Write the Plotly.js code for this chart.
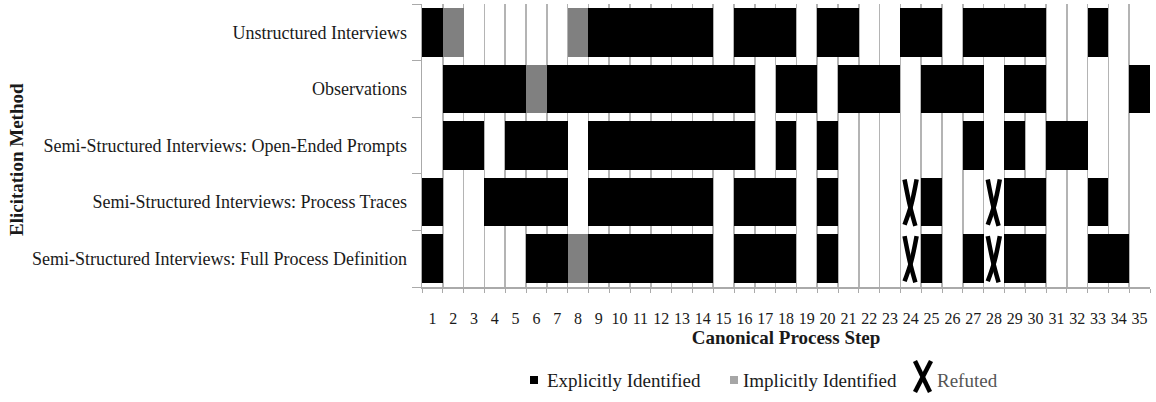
<!DOCTYPE html>
<html>
<head>
<meta charset="utf-8">
<script src="https://cdn.plot.ly/plotly-3.0.1.min.js"></script>
<style>html,body{margin:0;padding:0;background:#fff;}#chart{width:1156px;height:402px;}</style>
</head>
<body>
<div id="chart"></div>
<script>
// Status codes: 0 = not identified, 1 = explicitly identified, 2 = implicitly identified, 3 = refuted
var steps = [1,2,3,4,5,6,7,8,9,10,11,12,13,14,15,16,17,18,19,20,21,22,23,24,25,26,27,28,29,30,31,32,33,34,35];
var methods = [
  "Unstructured Interviews",
  "Observations",
  "Semi-Structured Interviews: Open-Ended Prompts",
  "Semi-Structured Interviews: Process Traces",
  "Semi-Structured Interviews: Full Process Definition"
];
var unstructured   = [1,2,0,0,0,0,0,2,1,1,1,1,1,1,0,1,1,1,0,1,1,0,0,1,1,0,1,1,1,1,0,0,1,0,0];
var observations   = [0,1,1,1,1,2,1,1,1,1,1,1,1,1,1,1,0,1,1,0,1,1,1,0,1,1,1,0,1,1,0,0,0,0,1];
var openEnded      = [0,1,1,0,1,1,1,0,1,1,1,1,1,1,1,1,0,1,0,1,0,0,0,0,0,0,1,0,1,0,1,1,0,0,0];
var processTraces  = [1,0,0,1,1,1,1,0,1,1,1,1,1,1,0,1,1,1,0,1,0,0,0,3,1,0,0,3,1,1,0,0,1,0,0];
var fullDefinition = [1,0,0,0,0,1,1,2,1,1,1,1,1,1,0,1,1,1,0,1,0,0,0,3,1,0,1,3,1,1,0,0,1,1,0];
var legendLabels = ["Explicitly Identified", "Implicitly Identified", "Refuted"];

var rows = [unstructured, observations, openEnded, processTraces, fullDefinition];
var rowIdx = methods.map(function(_, i){ return i; });

// heatmap matrix (null = blank cell, shows gridlines)
var z = rows.map(function(r){
  return r.map(function(v){ return (v === 1 || v === 2) ? v : null; });
});

// refuted "X" strokes built from the data
var rx = [], ry = [];
rows.forEach(function(r, i){
  r.forEach(function(v, j){
    if (v === 3) {
      var s = steps[j];
      rx.push(s - 0.30, s - 0.05, s + 0.22, null);
      ry.push(i - 0.40, i + 0.05, i + 0.42, null);
      rx.push(s + 0.28, s + 0.02, s - 0.30, null);
      ry.push(i - 0.40, i + 0.05, i + 0.40, null);
    }
  });
});

var traces = [
  {
    type: 'heatmap', x: steps, y: rowIdx, z: z,
    zmin: 1, zmax: 2, colorscale: [[0, '#000000'], [1, '#808080']],
    showscale: false, ygap: 8, xgap: 0, hoverinfo: 'skip', zsmooth: false
  },
  {
    type: 'scatter', mode: 'lines', x: rx, y: ry,
    line: {color: '#000', width: 4.5, shape: 'spline'},
    hoverinfo: 'skip', showlegend: false
  }
];

var serif = "'Liberation Serif', 'Times New Roman', Times, serif";
var L = 422, R = 1150, T = 4, B = 287;
function px(x){ return (x - L) / (R - L); }
function py(y){ return (B - y) / (B - T); }

var minorX = [];
for (var k = 0; k <= steps.length; k++) minorX.push(k + 0.5);
var minorY = [];
for (var m = 0; m <= methods.length; m++) minorY.push(m - 0.5);

var layout = {
  width: 1156, height: 402,
  margin: {l: L, r: 1156 - R, t: T, b: 402 - B},
  paper_bgcolor: '#fff', plot_bgcolor: '#fff',
  showlegend: false,
  font: {family: serif, color: '#1a1a1a'},
  xaxis: {
    range: [0.5, 35.5], tickmode: 'array', tickvals: steps, ticktext: steps.map(String),
    showgrid: false, zeroline: false,
    ticks: 'outside', ticklen: 16, tickcolor: 'rgba(0,0,0,0)',
    tickfont: {family: serif, size: 16, color: '#1a1a1a'},
    showline: true, linecolor: '#aaaaaa', linewidth: 1.5,
    minor: {tickmode: 'array', tickvals: minorX, showgrid: true, gridcolor: '#b4b4b4', gridwidth: 1.5,
            ticks: 'outside', ticklen: 4, tickcolor: '#aaaaaa', tickwidth: 1},
    title: {text: '<b>Canonical Process Step</b>', font: {family: serif, size: 19, color: '#1a1a1a'}, standoff: 2},
    fixedrange: true
  },
  yaxis: {
    range: [4.5, -0.5], tickmode: 'array', tickvals: rowIdx, ticktext: methods,
    showgrid: false, zeroline: false,
    ticks: 'outside', ticklen: 10, tickcolor: 'rgba(0,0,0,0)',
    tickfont: {family: serif, size: 18, color: '#1a1a1a'},
    showline: true, linecolor: '#aaaaaa', linewidth: 1.5,
    minor: {tickmode: 'array', tickvals: minorY, showgrid: false,
            ticks: 'outside', ticklen: 9, tickcolor: '#aaaaaa', tickwidth: 1},
    fixedrange: true
  },
  annotations: [
    {xref: 'paper', yref: 'paper', x: px(17), y: py(160), xanchor: 'center', yanchor: 'middle',
     text: '<b>Elicitation Method</b>', textangle: -90, showarrow: false,
     font: {family: serif, size: 19, color: '#1a1a1a'}},
    {xref: 'paper', yref: 'paper', x: px(545), y: py(380), xanchor: 'left', yanchor: 'middle',
     text: legendLabels[0], showarrow: false, font: {family: serif, size: 19, color: '#1a1a1a'}},
    {xref: 'paper', yref: 'paper', x: px(741), y: py(380), xanchor: 'left', yanchor: 'middle',
     text: legendLabels[1], showarrow: false, font: {family: serif, size: 19, color: '#1a1a1a'}},
    {xref: 'paper', yref: 'paper', x: px(935), y: py(380), xanchor: 'left', yanchor: 'middle',
     text: legendLabels[2], showarrow: false, font: {family: serif, size: 19, color: '#555555'}}
  ],
  shapes: [
    {type: 'rect', xref: 'paper', yref: 'paper', x0: px(530), x1: px(538), y0: py(384), y1: py(376),
     fillcolor: '#000', line: {width: 0}},
    {type: 'rect', xref: 'paper', yref: 'paper', x0: px(730), x1: px(738), y0: py(384), y1: py(376),
     fillcolor: '#a6a6a6', line: {width: 0}},
    {type: 'line', xref: 'paper', yref: 'paper', x0: px(915), y0: py(361), x1: px(930), y1: py(392),
     line: {color: '#000', width: 4.5}},
    {type: 'line', xref: 'paper', yref: 'paper', x0: px(931), y0: py(361), x1: px(915), y1: py(392),
     line: {color: '#000', width: 4.5}}
  ]
};

Plotly.newPlot('chart', traces, layout, {displayModeBar: false, staticPlot: true});
</script>
</body>
</html>
